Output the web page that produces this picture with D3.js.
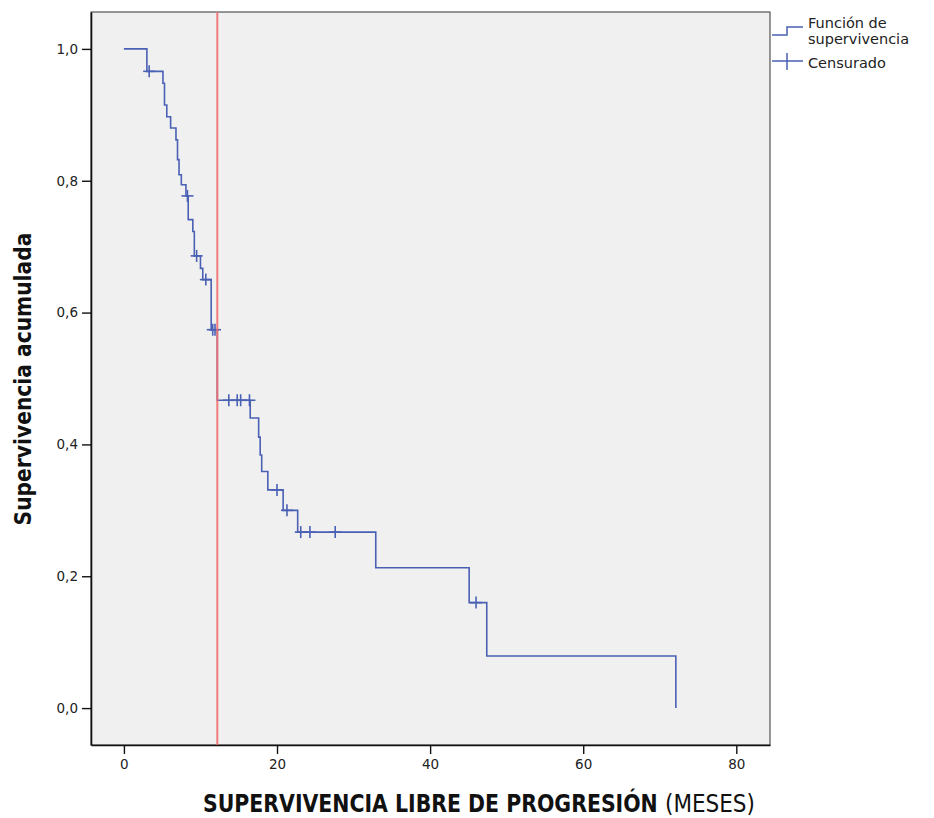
<!DOCTYPE html>
<html>
<head>
<meta charset="utf-8">
<script src="https://cdn.jsdelivr.net/npm/d3@7"></script>
<style>
  body { margin: 0; background: #fff; }
  svg { display: block; }
</style>
</head>
<body>
<svg width="934" height="818"></svg>
<script>
// Kaplan-Meier steps
const stepTimes = [0, 3.0, 5.1, 5.3, 5.6, 6.1, 6.8, 7.0, 7.2, 7.5, 8.1, 8.4, 9.0, 9.2, 10.0, 10.3, 11.4, 12.2, 16.5, 17.6, 17.8, 18.0, 18.8, 20.8, 22.7, 32.9, 45.1, 47.4, 72.1];
const stepSurv = [1.0, 0.966, 0.948, 0.915, 0.897, 0.880, 0.862, 0.832, 0.809, 0.794, 0.777, 0.741, 0.723, 0.686, 0.667, 0.650, 0.574, 0.467, 0.440, 0.411, 0.384, 0.359, 0.331, 0.300, 0.267, 0.213, 0.160, 0.079, 0.0];

const censorTimes = [3.3, 8.3, 9.5, 10.7, 11.6, 11.9, 13.7, 14.8, 15.25, 16.4, 20.0, 21.3, 23.1, 24.3, 27.6, 46.0];
const censorSurv = [0.966, 0.777, 0.686, 0.650, 0.574, 0.574, 0.467, 0.467, 0.467, 0.467, 0.331, 0.300, 0.267, 0.267, 0.267, 0.160];

const refLine = 12.2;

const xTicks = [0, 20, 40, 60, 80];
const yTicks = [0, 0.2, 0.4, 0.6, 0.8, 1.0];

const blue = '#4a60b4';
const narrow = "'DejaVu Sans Condensed', 'Liberation Sans Narrow', 'Liberation Sans', sans-serif";

const svg = d3.select('svg');

const xScale = d3.scaleLinear().domain([-4.3, 84.4]).range([91, 770]);
const yScale = d3.scaleLinear().domain([-0.056, 1.056]).range([745, 12]);

// plot background
svg.append('rect')
    .attr('x', 91).attr('y', 12)
    .attr('width', 679).attr('height', 733)
    .attr('fill', '#f0f0f0')
    .attr('stroke', '#333')
    .attr('stroke-width', 1);

// axes
const yAxis = svg.append('g')
    .attr('transform', 'translate(91,0)')
    .call(d3.axisLeft(yScale).tickValues(yTicks).tickSize(9).tickSizeOuter(0).tickPadding(4)
        .tickFormat(d => d3.format('.1f')(d).replace('.', ',')));
const xAxis = svg.append('g')
    .attr('transform', 'translate(0,745)')
    .call(d3.axisBottom(xScale).tickValues(xTicks).tickSize(9).tickSizeOuter(0).tickPadding(5));

[yAxis, xAxis].forEach(g => {
    g.select('.domain').attr('stroke', '#111').attr('stroke-width', 1.6);
    g.selectAll('.tick line').attr('stroke', '#111').attr('stroke-width', 1.4);
    g.selectAll('.tick text')
        .attr('font-family', 'DejaVu Sans')
        .attr('font-size', 13.5)
        .attr('fill', '#222');
});

// survival curve
const pts = stepTimes.map((t, i) => [t, stepSurv[i]]);
const line = d3.line()
    .x(d => xScale(d[0]))
    .y(d => yScale(d[1]))
    .curve(d3.curveStepAfter);

svg.append('path')
    .datum(pts)
    .attr('d', line)
    .attr('fill', 'none')
    .attr('stroke', blue)
    .attr('stroke-width', 1.6);

// censored marks
const cens = svg.append('g').selectAll('g')
    .data(censorTimes.map((t, i) => ({ t: t, s: censorSurv[i] })))
    .enter().append('g')
    .attr('transform', d => `translate(${xScale(d.t)},${yScale(d.s)})`);
cens.append('line').attr('x1', -6).attr('x2', 6).attr('y1', 0).attr('y2', 0);
cens.append('line').attr('x1', 0).attr('x2', 0).attr('y1', -6).attr('y2', 6);
cens.selectAll('line').attr('stroke', blue).attr('stroke-width', 1.6);

// reference line
svg.append('line')
    .attr('x1', xScale(refLine)).attr('x2', xScale(refLine))
    .attr('y1', 12).attr('y2', 745)
    .attr('stroke', '#f07070')
    .attr('stroke-width', 2)
    .attr('opacity', 0.9);

// titles: fit a condensed font to the measured width, keep the height with a vertical stretch
function fitText(str, x, y, width, size, bold, rotate) {
    const t = svg.append('text')
        .attr('font-family', narrow)
        .attr('font-weight', bold ? 'bold' : 'normal')
        .attr('font-size', size)
        .attr('fill', '#111')
        .text(str);
    const natural = t.node().getComputedTextLength();
    const fs = Math.min(size, size * width / natural);
    t.attr('font-size', fs);
    const k = size / fs;
    if (rotate) {
        t.attr('text-anchor', 'middle')
         .attr('transform', `translate(${x},${y}) rotate(-90) scale(1,${k})`);
    } else {
        t.attr('transform', `translate(${x},${y}) scale(1,${k})`);
    }
    return t;
}

fitText('Supervivencia acumulada', 31, 379, 293, 23, true, true);
fitText('SUPERVIVENCIA LIBRE DE PROGRESIÓN', 203, 812, 455, 25, true, false);
fitText('(MESES)', 665, 812, 90, 25, false, false);

// legend
const legend = svg.append('g');
legend.append('path')
    .attr('d', 'M772,35H787V27H803')
    .attr('fill', 'none').attr('stroke', blue).attr('stroke-width', 1.5);
legend.append('path')
    .attr('d', 'M772,61H803M787,53V70')
    .attr('fill', 'none').attr('stroke', blue).attr('stroke-width', 1.5);
const legendText = [['Función de', 28], ['supervivencia', 44], ['Censurado', 68]];
legend.selectAll('text')
    .data(legendText)
    .enter().append('text')
    .attr('x', 808)
    .attr('y', d => d[1])
    .attr('font-family', 'DejaVu Sans')
    .attr('font-size', 14.5)
    .attr('fill', '#222')
    .text(d => d[0]);
</script>
</body>
</html>
